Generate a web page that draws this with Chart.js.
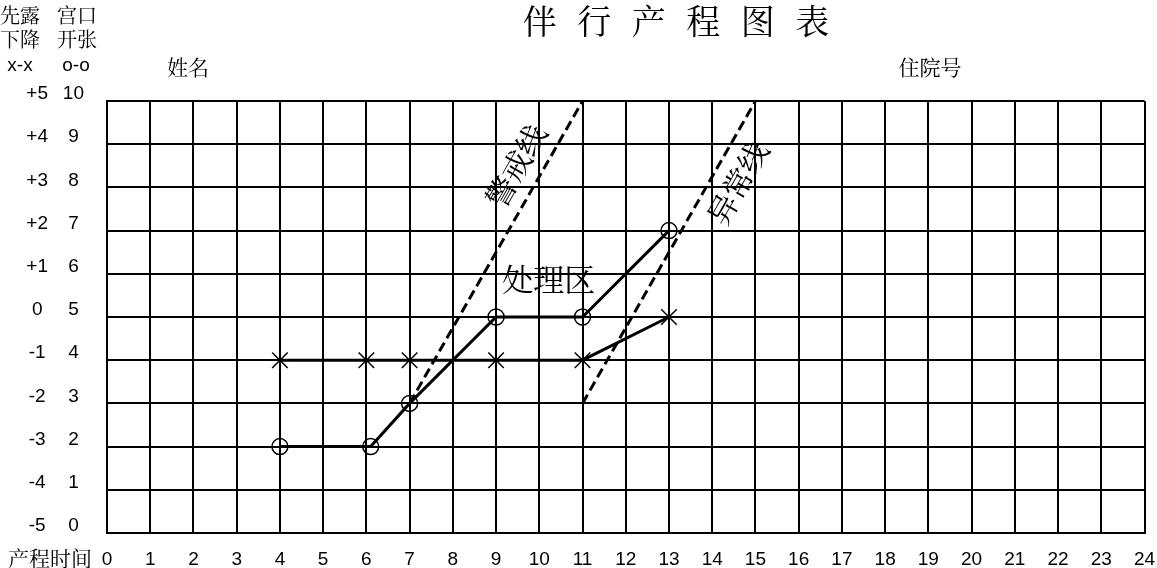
<!DOCTYPE html>
<html lang="zh">
<head>
<meta charset="UTF-8">
<title>伴行产程图表</title>
<style>
  body { margin: 0; background: #fff; }
  #wrap { width: 1157px; height: 568px; }
</style>
</head>
<body>
<div id="wrap"><canvas id="partogram" width="1157" height="568"></canvas></div>

<script src="https://cdn.jsdelivr.net/npm/chart.js"></script>
<script>
  // --- data ---
  const dilationHours = [4, 6.1, 7, 9, 11, 13];   // 宫口开张 o-o
  const dilationCm    = [2, 2, 3, 5, 5, 7];
  const stationHours  = [4, 6, 7, 9, 11, 13];     // 先露下降 x-x
  const stationLevel  = [-1, -1, -1, -1, -1, 0];
  const alertHours    = [7, 11];                  // 警戒线
  const alertCm       = [3, 10];
  const actionHours   = [11, 15];                 // 异常线
  const actionCm      = [3, 10];

  const titleText = '伴行产程图表';
  const sans = "'Liberation Sans', Arial, sans-serif";
  const cjk = "'Noto Serif CJK SC', 'Noto Sans CJK SC', serif";

  const toPoints = (xs, ys) => xs.map((x, i) => ({ x: x, y: ys[i] }));

  // paper text: headers, title, line names
  const paperText = {
    id: 'paperText',
    afterDraw(chart) {
      const { ctx, scales } = chart;
      const x = scales.x, y = scales.y;
      ctx.save();
      ctx.fillStyle = '#000';
      ctx.textAlign = 'center';
      ctx.textBaseline = 'middle';

      // title, spaced out character by character
      ctx.font = '34px ' + cjk;
      const chars = titleText.split('');
      const step = 54.5;
      chars.forEach((c, i) => {
        ctx.fillText(c, 676 + (i - (chars.length - 1) / 2) * step, 21);
      });

      // column headers on the left
      ctx.font = '20px ' + cjk;
      ctx.fillText('先露', 20, 15);
      ctx.fillText('下降', 20, 39);
      ctx.fillText('宫口', 77, 15);
      ctx.fillText('开张', 77, 39);
      ctx.font = '19px ' + sans;
      ctx.fillText('x-x', 20, 66);
      ctx.fillText('o-o', 76, 66);

      ctx.font = '21px ' + cjk;
      ctx.fillText('姓名', 188, 67);
      ctx.fillText('住院号', 930, 67);
      ctx.fillText('产程时间', 50, 558);

      // 处理区
      ctx.font = '31px ' + cjk;
      ctx.fillText('处理区', x.getPixelForValue(10.22), y.getPixelForValue(5.88));

      // rotated names along the two dashed lines
      const angleOf = (xs, ys) => Math.atan2(
        y.getPixelForValue(ys[1]) - y.getPixelForValue(ys[0]),
        x.getPixelForValue(xs[1]) - x.getPixelForValue(xs[0]));
      const rotated = (text, px, py, ang) => {
        ctx.save();
        ctx.translate(x.getPixelForValue(px), y.getPixelForValue(py));
        ctx.rotate(ang);
        ctx.fillText(text, 0, 0);
        ctx.restore();
      };
      ctx.font = '30px ' + cjk;
      rotated('警戒线', 9.46, 8.5, angleOf(alertHours, alertCm));
      rotated('异常线', 14.59, 8.1, angleOf(actionHours, actionCm));
      ctx.restore();
    }
  };

  const gridStyle = { color: '#000', lineWidth: 2, drawTicks: false };
  const borderStyle = { color: '#000', width: 2 };
  const tickFont = { family: sans, size: 19 };

  new Chart(document.getElementById('partogram'), {
    type: 'scatter',
    data: {
      datasets: [
        {
          label: '宫口开张',
          data: toPoints(dilationHours, dilationCm),
          showLine: true,
          borderColor: '#000',
          borderWidth: 3,
          pointStyle: 'circle',
          pointRadius: 8,
          pointBackgroundColor: 'rgba(0,0,0,0)',
          pointBorderColor: '#000',
          pointBorderWidth: 1.5,
          yAxisID: 'y'
        },
        {
          label: '先露下降',
          data: toPoints(stationHours, stationLevel),
          showLine: true,
          borderColor: '#000',
          borderWidth: 3,
          pointStyle: 'crossRot',
          pointRadius: 11,
          pointBorderColor: '#000',
          pointBorderWidth: 1.5,
          yAxisID: 'ys'
        },
        {
          label: '警戒线',
          data: toPoints(alertHours, alertCm),
          showLine: true,
          borderColor: '#000',
          borderWidth: 3,
          borderDash: [10, 5],
          pointRadius: 0,
          yAxisID: 'y'
        },
        {
          label: '异常线',
          data: toPoints(actionHours, actionCm),
          showLine: true,
          borderColor: '#000',
          borderWidth: 3,
          borderDash: [10, 5],
          pointRadius: 0,
          yAxisID: 'y'
        }
      ]
    },
    options: {
      responsive: false,
      animation: false,
      layout: { padding: { top: 101, right: 0, bottom: 0, left: 0 } },
      plugins: { legend: { display: false }, tooltip: { enabled: false } },
      scales: {
        x: {
          type: 'linear',
          position: 'bottom',
          min: 0, max: 24,
          ticks: { stepSize: 1, color: '#000', font: tickFont, padding: 15 },
          grid: gridStyle,
          border: borderStyle,
          afterFit: s => { s.height = 35; s.paddingRight = 12; }
        },
        y: {
          type: 'linear',
          position: 'left',
          weight: 0,
          min: 0, max: 10,
          ticks: { stepSize: 1, color: '#000', font: tickFont,
                   crossAlign: 'center', padding: 23, labelOffset: -7 },
          grid: gridStyle,
          border: borderStyle,
          afterFit: s => { s.width = 50; }
        },
        ys: {
          type: 'linear',
          position: 'left',
          weight: 1,
          min: -5, max: 5,
          ticks: { stepSize: 1, color: '#000', font: tickFont,
                   crossAlign: 'center', padding: 9, labelOffset: -7,
                   callback: v => (v > 0 ? '+' + v : String(v)) },
          grid: { display: false, drawTicks: false },
          border: { display: false },
          afterFit: s => { s.width = 57; }
        }
      }
    },
    plugins: [paperText]
  });
</script>
</body>
</html>
